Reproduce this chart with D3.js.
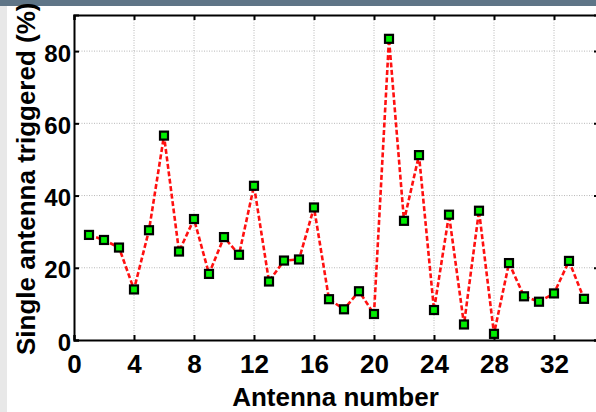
<!DOCTYPE html>
<html><head><meta charset="utf-8">
<script src="https://cdn.jsdelivr.net/npm/d3@7"></script>
<style>html,body{margin:0;padding:0;background:#fff;overflow:hidden}</style>
</head><body>
<script>
const antennas = d3.range(1, 35);
const triggered = [29.1, 27.7, 25.6, 14.0, 30.4, 56.6, 24.5, 33.5, 18.3, 28.5, 23.6, 42.7, 16.2, 22.0, 22.3, 36.7, 11.3, 8.5, 13.5, 7.2, 83.4, 33.0, 51.2, 8.3, 34.7, 4.3, 35.8, 1.7, 21.3, 12.1, 10.6, 12.9, 21.9, 11.4];
const xTicks = [0, 4, 8, 12, 16, 20, 24, 28, 32];
const yTicks = [0, 20, 40, 60, 80];
const xLabel = "Antenna number";
const yLabel = "Single antenna triggered (%)";

const W = 596, H = 412;
const svg = d3.select("body").append("svg").attr("width", W).attr("height", H);
svg.append("rect").attr("width", W).attr("height", H).attr("fill", "#fff");
svg.append("rect").attr("x", 0).attr("y", 0).attr("width", 7).attr("height", H).attr("fill", "#e8e8e8");

const L = 74, R = 599, T = 15, B = 340;
const x = d3.scaleLinear().domain([0, 35]).range([L, R]);
const y = d3.scaleLinear().domain([0, 90]).range([B, T]);

const g = svg.append("g");
// grid
g.selectAll(".gx").data(xTicks.filter(d => d > 0)).enter().append("line")
  .attr("x1", d => x(d)).attr("x2", d => x(d)).attr("y1", T).attr("y2", B)
  .attr("stroke", "#b8b8b8").attr("stroke-width", 1).attr("stroke-dasharray", "1,1.5");
g.selectAll(".gy").data(yTicks.filter(d => d > 0)).enter().append("line")
  .attr("x1", L).attr("x2", R).attr("y1", d => y(d)).attr("y2", d => y(d))
  .attr("stroke", "#b8b8b8").attr("stroke-width", 1).attr("stroke-dasharray", "1,1.5");

// axes
const fontFam = "'Liberation Sans', Arial, Helvetica, sans-serif";
const xAxis = svg.append("g").attr("transform", `translate(0,${B})`)
  .call(d3.axisBottom(x).tickValues(xTicks).tickSize(-5).tickPadding(15));
const yAxis = svg.append("g").attr("transform", `translate(${L},0)`)
  .call(d3.axisLeft(y).tickValues(yTicks).tickSize(-5).tickPadding(3));
const xTop = svg.append("g").attr("transform", `translate(0,${T})`)
  .call(d3.axisTop(x).tickValues(xTicks).tickSize(-5).tickFormat(""));
const yRight = svg.append("g").attr("transform", `translate(${R},0)`)
  .call(d3.axisRight(y).tickValues(yTicks).tickSize(-5).tickFormat(""));
[xAxis, yAxis, xTop, yRight].forEach(a => {
  a.select(".domain").attr("stroke", "#000").attr("stroke-width", 2);
  a.selectAll(".tick line").attr("stroke", "#000").attr("stroke-width", 2);
  a.selectAll(".tick text").attr("font-family", fontFam).attr("font-weight", "bold").attr("fill", "#000");
});
xAxis.selectAll(".tick text").attr("font-size", 26);
yAxis.selectAll(".tick text").attr("font-size", 24).attr("dy", "0.42em");

// line
const line = d3.line().x((d, i) => x(antennas[i])).y(d => y(d));
svg.append("path").datum(triggered).attr("d", line).attr("fill", "none")
  .attr("stroke", "#ff1010").attr("stroke-width", 2.6).attr("stroke-dasharray", "5,2.5");

// markers
const ms = 8;
svg.selectAll(".m").data(triggered).enter().append("rect")
  .attr("x", (d, i) => x(antennas[i]) - ms / 2).attr("y", d => y(d) - ms / 2)
  .attr("width", ms).attr("height", ms)
  .attr("fill", "#00ee00").attr("stroke", "#000").attr("stroke-width", 2.2);

// top bar
svg.append("rect").attr("x", 0).attr("y", 0).attr("width", W).attr("height", 6).attr("fill", "#5f7587");

// labels
svg.append("text").attr("x", (L + R) / 2 - 1).attr("y", 406).attr("text-anchor", "middle")
  .attr("font-family", fontFam).attr("font-weight", "bold").attr("font-size", 26).text(xLabel);
svg.append("text").attr("transform", `translate(35,355) rotate(-90)`).attr("text-anchor", "start")
  .attr("font-family", fontFam).attr("font-weight", "bold").attr("font-size", 26).text(yLabel);
</script>
</body></html>
